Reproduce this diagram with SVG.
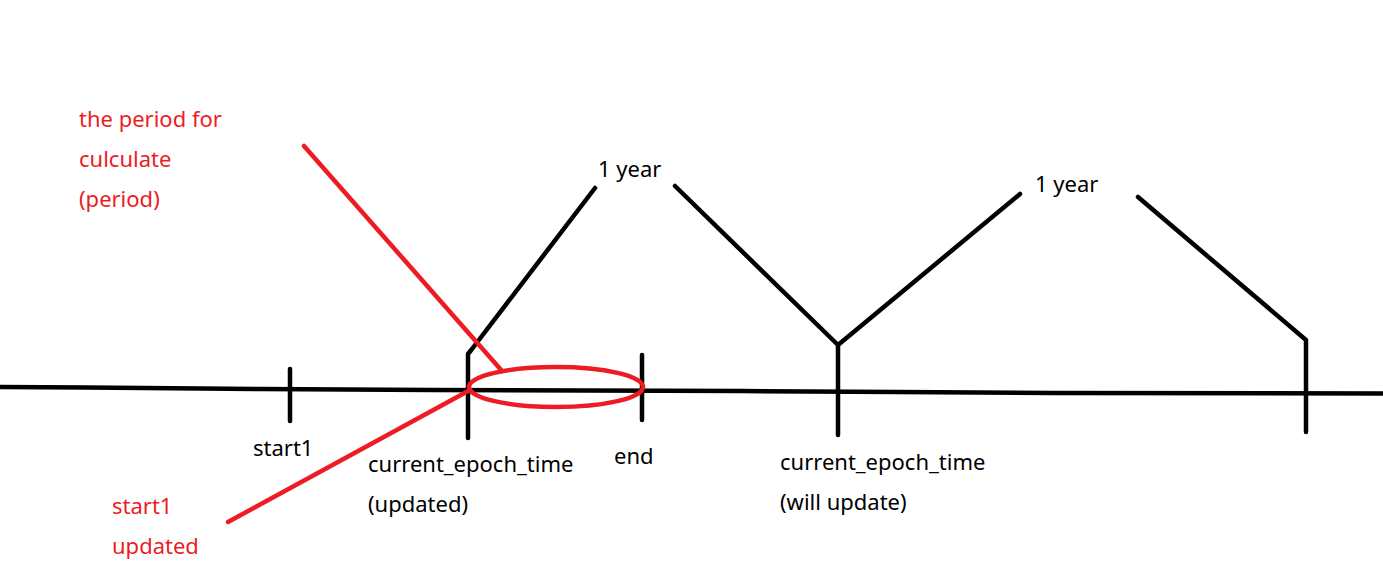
<svg xmlns="http://www.w3.org/2000/svg" width="1383" height="587" viewBox="0 0 1383 587">
<style>
.k{stroke:#000;stroke-width:4.5;fill:none;stroke-linecap:round;stroke-linejoin:round}
.r{stroke:#ed1c24;stroke-width:4.5;fill:none;stroke-linecap:round}
.t{font-family:"Noto Sans","Open Sans",sans-serif;font-size:22px;fill:#000}
.tr{font-family:"Noto Sans","Open Sans",sans-serif;font-size:22px;fill:#ed1c24}
</style>
<rect width="1383" height="587" fill="#fff"/>
<g id="connectors">
<polyline class="k" points="0,387 87,387.5 260,389 433,390 742,391 897,392 1052,393 1383,393.5"/>
<line class="k" x1="290" y1="369" x2="290" y2="421"/>
<polyline class="k" points="468,438 468,354 472,349 595,188"/>
<line class="k" x1="642" y1="355" x2="642" y2="420"/>
<polyline class="k" points="675,186 838,345 1020,194"/>
<line class="k" x1="838" y1="345" x2="838" y2="435"/>
<polyline class="k" points="1138,197 1306,340 1306,432"/>
<ellipse class="r" cx="556" cy="387" rx="87" ry="20"/>
<line class="r" x1="304" y1="146" x2="502" y2="371"/>
<line class="r" x1="228" y1="522" x2="470" y2="390"/>
</g>
<g id="labels-red">
<text class="tr" x="79" y="127">the period for</text>
<text class="tr" x="79" y="167">culculate</text>
<text class="tr" x="79" y="207">(period)</text>
<text class="tr" x="112" y="514">start1</text>
<text class="tr" x="112" y="554">updated</text>
</g>
<g id="labels">
<text class="t" x="598" y="177">1 year</text>
<text class="t" x="1035" y="192">1 year</text>
<text class="t" x="253" y="456">start1</text>
<text class="t" x="368" y="472">current_epoch_time</text>
<text class="t" x="368" y="512">(updated)</text>
<text class="t" x="614" y="464">end</text>
<text class="t" x="780" y="470">current_epoch_time</text>
<text class="t" x="780" y="510">(will update)</text>
</g>
</svg>
